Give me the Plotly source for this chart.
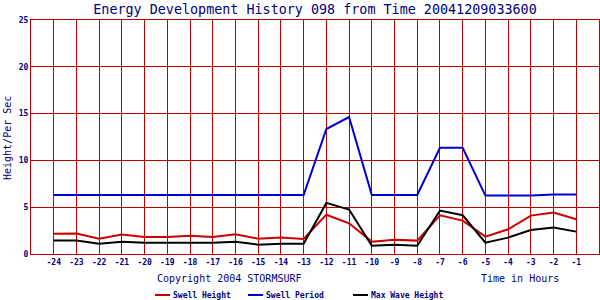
import plotly.graph_objects as go

hours = list(range(-24, 0))
swell_height = [2.17, 2.2, 1.64, 2.07, 1.82, 1.82, 1.96, 1.82, 2.1, 1.64, 1.75, 1.6,
                4.2, 3.28, 1.32, 1.53, 1.43, 4.14, 3.57, 1.86, 2.64, 4.1, 4.42, 3.71]
swell_period = [6.3, 6.3, 6.3, 6.3, 6.3, 6.3, 6.3, 6.3, 6.3, 6.3, 6.3, 6.3,
                13.35, 14.63, 6.3, 6.3, 6.3, 11.35, 11.35, 6.24, 6.24, 6.24, 6.35, 6.35]
max_wave = [1.43, 1.43, 1.1, 1.32, 1.21, 1.21, 1.21, 1.21, 1.32, 1.0, 1.1, 1.1,
            5.46, 4.75, 0.89, 1.0, 0.89, 4.64, 4.14, 1.21, 1.75, 2.57, 2.82, 2.39]
y_ticks = [0, 5, 10, 15, 20, 25]

NAVY = "#000080"
GRID = "#c00000"
FONT = "DejaVu Sans Mono"

fig = go.Figure()
series = [
    ("Swell Height", swell_height, "#cc0000"),
    ("Swell Period", swell_period, "#0000cc"),
    ("Max Wave Height", max_wave, "#000000"),
]
for name, vals, col in series:
    fig.add_trace(go.Scatter(x=hours, y=vals, mode="lines", name=name,
                             line=dict(color=col, width=2), showlegend=False))

# manual legend
W, L = 568.0, 31.0
H, T = 234.0, 20.0
def px_x(p):
    return (p - L) / W
def px_y(p):
    return (254 - p) / H

leg = [("Swell Height", "#cc0000", 155), ("Swell Period", "#0000cc", 248),
       ("Max Wave Height", "#000000", 353)]
for name, col, x0 in leg:
    fig.add_shape(type="line", xref="paper", yref="paper",
                  x0=px_x(x0), x1=px_x(x0 + 15), y0=px_y(295), y1=px_y(295),
                  line=dict(color=col, width=2))
    fig.add_annotation(text=name, xref="paper", yref="paper", x=px_x(x0 + 16), y=px_y(295),
                       xanchor="left", yanchor="middle", showarrow=False,
                       font=dict(family=FONT, size=8, color=NAVY, weight="bold"))

fig.add_annotation(text="Copyright 2004 STORMSURF", xref="paper", yref="paper",
                   x=px_x(155), y=px_y(278), xanchor="left", yanchor="middle",
                   showarrow=False, font=dict(family=FONT, size=10, color=NAVY))
fig.add_annotation(text="Time in Hours", xref="paper", yref="paper",
                   x=px_x(479), y=px_y(278), xanchor="left", yanchor="middle",
                   showarrow=False, font=dict(family=FONT, size=10, color=NAVY))
fig.add_annotation(text="Height/Per Sec", xref="paper", yref="paper",
                   x=px_x(7), y=px_y(138), xanchor="center", yanchor="middle",
                   textangle=-90, showarrow=False,
                   font=dict(family=FONT, size=10, color=NAVY))

fig.update_layout(
    width=600, height=300,
    margin=dict(l=31, r=1, t=20, b=46),
    paper_bgcolor="white", plot_bgcolor="white",
    title=dict(text="Energy Development History 098 from Time 20041209033600",
               x=0.5, xanchor="center", xref="paper", y=1 - 9.6 / 300, yanchor="middle",
               font=dict(family=FONT, size=13.4, color=NAVY)),
    xaxis=dict(range=[-25, 0], tickvals=hours, ticktext=[str(h) for h in hours],
               showgrid=True, gridcolor=GRID, gridwidth=1,
               showline=True, linecolor=GRID, linewidth=1, mirror=True,
               zeroline=False, ticks="", ticklen=0,
               tickfont=dict(family=FONT, size=8, color=NAVY, weight="bold")),
    yaxis=dict(range=[0, 25], tickvals=y_ticks,
               showgrid=True, gridcolor=GRID, gridwidth=1,
               showline=True, linecolor=GRID, linewidth=1, mirror=True,
               zeroline=False, ticks="", ticklen=0,
               tickfont=dict(family=FONT, size=8, color=NAVY, weight="bold")),
)

fig.write_html("out.html")
